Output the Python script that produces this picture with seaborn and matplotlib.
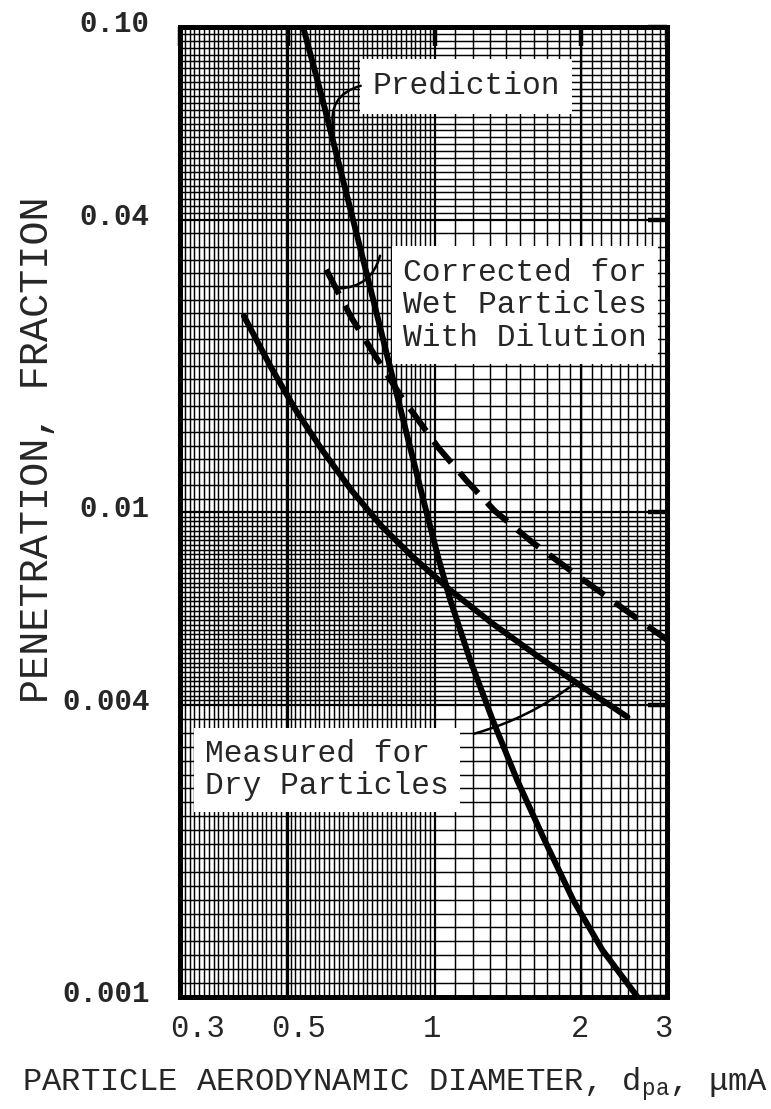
import numpy as np
import pandas as pd
import matplotlib
matplotlib.use("Agg")
import matplotlib.pyplot as plt
import seaborn as sns
from matplotlib.transforms import ScaledTranslation
from matplotlib.ticker import NullLocator, FixedLocator, FixedFormatter

# ---------------- data ----------------
pred_x = [0.537, 0.589, 0.664, 0.748, 0.842, 0.948, 1.019, 1.077, 1.183, 1.315, 1.477, 1.680, 1.925, 2.210, 2.61]
pred_y = [0.100, 0.0707, 0.0440, 0.0274, 0.0170, 0.01059, 0.00800, 0.00658, 0.00495, 0.00373, 0.00280, 0.00211, 0.001585, 0.00125, 0.00100]

meas_x = [0.4057, 0.461, 0.519, 0.585, 0.674, 0.777, 0.897, 1.069, 1.311, 1.638, 2.010, 2.488]
meas_y = [0.02536, 0.0199, 0.0162, 0.0135, 0.0111, 0.00936, 0.00812, 0.00694, 0.00590, 0.00502, 0.00436, 0.00378]

wet_x = [0.599, 0.674, 0.759, 0.855, 1.019, 1.164, 1.329, 1.585, 1.944, 2.43, 3.0]
wet_y = [0.0316, 0.0252, 0.0208, 0.01726, 0.01355, 0.01159, 0.01005, 0.00867, 0.00745, 0.00634, 0.00545]

x_ticks = [0.3, 0.5, 1, 2, 3]
x_tick_labels = ["0.3", "0.5", "1", "2", "3"]
y_ticks = [0.001, 0.004, 0.01, 0.04, 0.1]
y_tick_labels = ["0.001", "0.004", "0.01", "0.04", "0.10"]

label_pred = "Prediction"
label_wet = "Corrected for\nWet Particles\nWith Dilution"
label_meas = "Measured for\nDry Particles"
x_title = r"PARTICLE AERODYNAMIC DIAMETER, d$_{\mathrm{pa}}$, μmA"
y_title = "PENETRATION, FRACTION"

# ---------------- style ----------------
sns.set_style("white")
plt.rcParams["font.family"] = ["Liberation Mono", "DejaVu Sans"]
plt.rcParams["mathtext.fontset"] = "custom"
plt.rcParams["mathtext.rm"] = "Liberation Mono"
plt.rcParams["mathtext.it"] = "Liberation Mono"

fig = plt.figure(figsize=(7.71, 11.09), dpi=100)
ax = fig.add_axes([180 / 771, 1 - 997 / 1109, 487 / 771, 970 / 1109])
ax.set_xscale("log")
ax.set_yscale("log")
ax.set_xlim(0.3, 3)
ax.set_ylim(0.001, 0.1)

# ---------------- log graph-paper grid ----------------
gcol = "black"
glw = 1.05
vx = np.concatenate([np.geomspace(0.3, 1.0, 54)[1:-1], np.arange(1.1, 2.95, 0.1)])
ax.vlines(vx, 0, 1, transform=ax.get_xaxis_transform(), color=gcol, lw=glw, zorder=1)
ax.vlines([0.5, 1.0, 2.0], 0, 1, transform=ax.get_xaxis_transform(), color=gcol, lw=1.6, zorder=1)
hy = np.concatenate([
    np.geomspace(0.001, 0.004, 22)[1:-1],
    np.geomspace(0.004, 0.01, 42)[1:-1],
    np.geomspace(0.01, 0.04, 23)[1:-1],
    np.geomspace(0.04, 0.1, 29)[1:-1],
])
ax.hlines(hy, 0, 1, transform=ax.get_yaxis_transform(), color=gcol, lw=glw, zorder=1)
ax.hlines([0.004, 0.01, 0.04], 0, 1, transform=ax.get_yaxis_transform(), color=gcol, lw=1.6, zorder=1)

# ---------------- curves ----------------
df_pred = pd.DataFrame({"x": pred_x, "y": pred_y})
df_meas = pd.DataFrame({"x": meas_x, "y": meas_y})
df_wet = pd.DataFrame({"x": wet_x, "y": wet_y})

sns.lineplot(data=df_pred, x="x", y="y", ax=ax, color="black", lw=4.3,
             estimator=None, sort=False, zorder=5, solid_joinstyle="round")
sns.lineplot(data=df_meas, x="x", y="y", ax=ax, color="black", lw=4.3,
             estimator=None, sort=False, zorder=5, solid_joinstyle="round")
sns.lineplot(data=df_wet, x="x", y="y", ax=ax, color="black", lw=4.3,
             estimator=None, sort=False, zorder=5,
             linestyle=(0, (4.6, 2.2)), dash_capstyle="butt")

# ---------------- labels with white boxes ----------------
fs_box = 22.5
ax.text(0.587, 0.939, label_pred, transform=ax.transAxes, ha="center", va="center",
        fontsize=fs_box, zorder=4, bbox=dict(facecolor="white", edgecolor="none", pad=9))
ax.text(0.458, 0.713, label_wet, transform=ax.transAxes, ha="left", va="center",
        fontsize=fs_box, zorder=4, linespacing=1.12,
        bbox=dict(facecolor="white", edgecolor="none", pad=8))
ax.text(0.051, 0.234, label_meas, transform=ax.transAxes, ha="left", va="center",
        fontsize=fs_box, zorder=4, linespacing=1.08,
        bbox=dict(facecolor="white", edgecolor="none", pad=8))

# leader lines
lead = dict(arrowstyle="-", lw=1.8, color="black")
ax.annotate("", xy=(0.622, 0.0605), xytext=(0.714, 0.0759),
            arrowprops=dict(lead, connectionstyle="arc3,rad=0.5"), zorder=6)
ax.annotate("", xy=(0.628, 0.0289), xytext=(0.775, 0.0342),
            arrowprops=dict(lead, connectionstyle="arc3,rad=-0.4"), zorder=6)
ax.annotate("", xy=(1.944, 0.00444), xytext=(1.192, 0.00348),
            arrowprops=dict(lead, connectionstyle="arc3,rad=0.1"), zorder=6)

# ---------------- axes, ticks ----------------
for s in ax.spines.values():
    s.set_linewidth(3.6)
    s.set_color("black")
    s.set_zorder(7)

ax.xaxis.set_major_locator(FixedLocator(x_ticks))
ax.xaxis.set_major_formatter(FixedFormatter(x_tick_labels))
ax.xaxis.set_minor_locator(NullLocator())
ax.yaxis.set_major_locator(FixedLocator(y_ticks))
ax.yaxis.set_major_formatter(FixedFormatter(y_tick_labels))
ax.yaxis.set_minor_locator(NullLocator())
ax.tick_params(axis="both", which="major", direction="in", length=14, width=3.2,
               top=True, right=True, color="black")
ax.tick_params(axis="x", pad=12, labelsize=22)
ax.tick_params(axis="y", pad=22, labelsize=21)
for lab in ax.get_yticklabels():
    lab.set_fontweight("bold")
    lab.set_transform(lab.get_transform() + ScaledTranslation(0, 6 / 100, fig.dpi_scale_trans))
xoffs = [17, 10, -3, -1, -4]
for lab, dx in zip(ax.get_xticklabels(), xoffs):
    lab.set_transform(lab.get_transform() + ScaledTranslation(dx / 100, 0, fig.dpi_scale_trans))
ax.set_xlabel("")
ax.set_ylabel("")

fig.text(395 / 771, 1 - 1091 / 1109, x_title, ha="center", va="baseline", fontsize=23.2)
fig.text(37 / 771, 1 - 450 / 1109, y_title, ha="center", va="center", rotation=90, fontsize=29)

fig.savefig("out.png", dpi=100, facecolor="white")
